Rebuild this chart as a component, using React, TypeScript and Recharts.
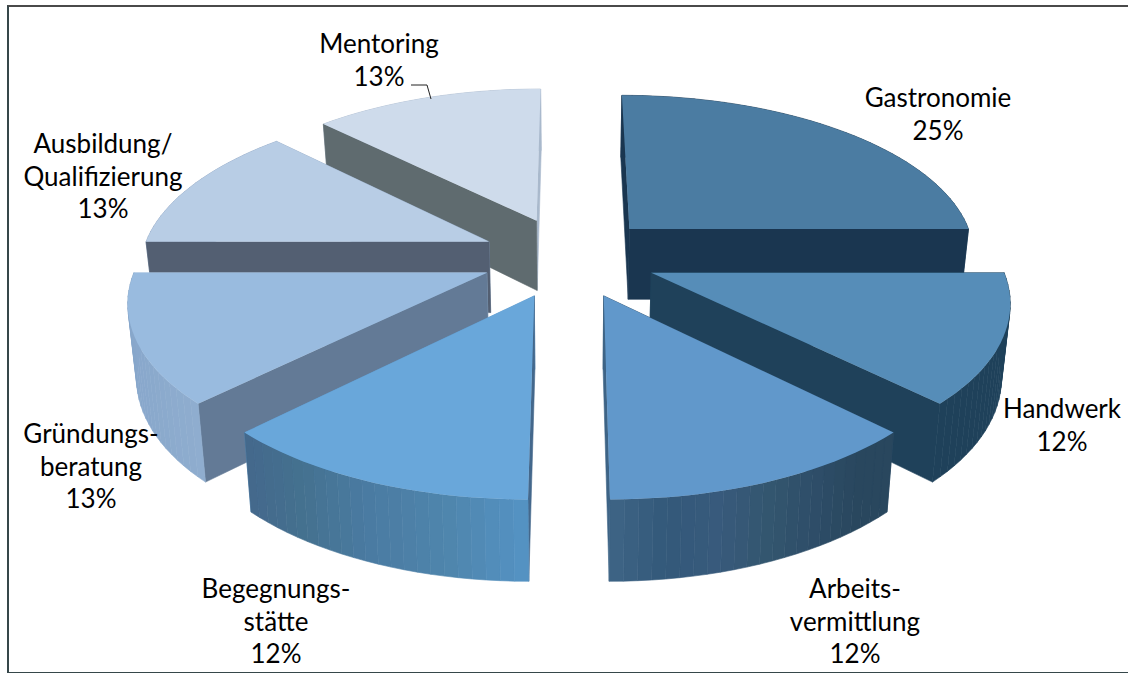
import { PieChart, Pie } from "recharts";

const categories = [
  "Gastronomie",
  "Handwerk",
  "Arbeitsvermittlung",
  "Begegnungsstätte",
  "Gründungsberatung",
  "Ausbildung",
  "Mentoring",
];
const values = [25, 12.5, 12.5, 12.5, 12.5, 12.5, 12.5];
const shownPercent = ["25%", "12%", "12%", "12%", "13%", "13%", "13%"];
const labelLines = [
  ["Gastronomie"],
  ["Handwerk"],
  ["Arbeits-", "vermittlung"],
  ["Begegnungs-", "stätte"],
  ["Gründungs-", "beratung"],
  ["Ausbildung/", "Qualifizierung"],
  ["Mentoring"],
];

const rows = categories.map((name, i) => ({ name, value: values[i], idx: i }));
// painted in this order so the nearer slices cover the farther ones
const rightRows = rows.slice(0, 3);
const leftRows = rows.slice(3).reverse();

// colours: top face, wall on the start-angle side, wall on the end-angle side, curved wall stops
const sliceStyles = [
  { top: "#4b7ca2", a: "#1a3650", b: "#1a3650", arc: ["#1a3650", "#1f415a"] },
  { top: "#568db8", a: "#1f415a", b: "#1f415a", arc: ["#1f415a", "#1f415a"] },
  { top: "#6198cb", a: "#2d4f6b", b: "#3e6486", arc: ["#29475e", "#29475e", "#2e4d68", "#33566f", "#385a7c", "#33597a", "#3e6486"] },
  { top: "#69a7da", a: "#5f9bcd", b: "#44688c", arc: ["#44688c", "#44718f", "#4a7ba2", "#4f85ac", "#5593c4"] },
  { top: "#99bbdf", a: "#aac4e0", b: "#637a96", arc: ["#82a2c2", "#87a6cb", "#8aa9cc", "#8fadcf"] },
  { top: "#b8cde5", a: "#94a9c4", b: "#535f72", arc: ["#8fa5c2", "#8fa5c2"] },
  { top: "#cedbeb", a: "#a9b9cc", b: "#5f6b6f", arc: ["#a9b9cc", "#a9b9cc"] },
];

// centre of each label line block and first baseline
const labelSpots = [
  { x: 938, y: 107 },
  { x: 1062, y: 418 },
  { x: 855, y: 598 },
  { x: 276, y: 598 },
  { x: 91, y: 443 },
  { x: 103, y: 153 },
  { x: 379, y: 53 },
];

const EXPLODE = 0.252;
const PERSPECTIVE = 0.147;
const FLATTEN = 0.4626;

const mix = (c1: string, c2: string, t: number) => {
  const n1 = parseInt(c1.slice(1), 16);
  const n2 = parseInt(c2.slice(1), 16);
  const ch = (s: number) => {
    const p = (n1 >> s) & 255;
    const q = (n2 >> s) & 255;
    return Math.round(p + (q - p) * t);
  };
  return `rgb(${ch(16)},${ch(8)},${ch(0)})`;
};

const stopColor = (stops: string[], t: number) => {
  const pos = t * (stops.length - 1);
  const i = Math.min(Math.floor(pos), stops.length - 2);
  return mix(stops[i], stops[i + 1], pos - i);
};

function Slice3D(props: any) {
  const { cx, cy, outerRadius, startAngle, endAngle, payload } = props;
  const style = sliceStyles[payload.idx ?? props.idx];
  const rad = (d: number) => (d * Math.PI) / 180;
  const mid = rad((startAngle + endAngle) / 2);
  const ou = EXPLODE * Math.cos(mid);
  const ov = -EXPLODE * Math.sin(mid);

  const topPt = (u: number, v: number) => {
    const w = 1 - PERSPECTIVE * v;
    return [cx + (outerRadius * u) / w, cy + (outerRadius * FLATTEN * v) / w];
  };
  const botPt = (u: number, v: number) => {
    const [x, y] = topPt(u, v);
    return [cx + (x - cx) * 0.98, y + 71.7 + 8.3 * v];
  };
  const str = (pts: number[][]) => pts.map((p) => `${p[0].toFixed(1)},${p[1].toFixed(1)}`).join(" ");

  const steps = Math.max(12, Math.round(Math.abs(endAngle - startAngle) / 2));
  const rim: number[][] = [];
  for (let i = 0; i <= steps; i++) {
    const t = rad(startAngle + ((endAngle - startAngle) * i) / steps);
    rim.push([ou + Math.cos(t), ov - Math.sin(t)]);
  }
  const apex = [ou, ov];

  const faces: { pts: number[][]; fill: string; key: number }[] = [];
  const radial = (p: number[], fill: string) =>
    faces.push({
      pts: [topPt(apex[0], apex[1]), topPt(p[0], p[1]), botPt(p[0], p[1]), botPt(apex[0], apex[1])],
      fill,
      key: (apex[1] + p[1]) / 2,
    });
  radial(rim[0], style.a);
  radial(rim[steps], style.b);
  for (let i = 0; i < steps; i++) {
    const p = rim[i];
    const q = rim[i + 1];
    faces.push({
      pts: [topPt(p[0], p[1]), topPt(q[0], q[1]), botPt(q[0], q[1]), botPt(p[0], p[1])],
      fill: stopColor(style.arc, (i + 0.5) / steps),
      key: (p[1] + q[1]) / 2,
    });
  }
  faces.sort((f, g) => f.key - g.key);

  const topFace = [apex, ...rim].map((p) => topPt(p[0], p[1]));
  return (
    <g>
      {faces.map((f, i) => (
        <polygon key={i} points={str(f.pts)} fill={f.fill} stroke={f.fill} strokeWidth={0.6} />
      ))}
      <polygon points={str(topFace)} fill={style.top} />
    </g>
  );
}

function SliceLabel(props: any) {
  const idx = props.payload?.idx ?? props.idx;
  const spot = labelSpots[idx];
  const lines = [...labelLines[idx], shownPercent[idx]];
  return (
    <g>
      <text
        x={spot.x}
        y={spot.y}
        textAnchor="middle"
        fontFamily="Lato, sans-serif"
        fontSize={26}
        fill="#000"
      >
        {lines.map((line, i) => (
          <tspan key={i} x={spot.x} y={spot.y + i * 32.6}>
            {line}
          </tspan>
        ))}
      </text>
      {categories[idx] === "Mentoring" && (
        <polyline points="411,85 427,85 431,99" fill="none" stroke="#222" strokeWidth={1} />
      )}
    </g>
  );
}

export default function App() {
  const common = {
    dataKey: "value",
    nameKey: "name",
    cx: 569,
    cy: 257,
    outerRadius: 348,
    stroke: "none",
    isAnimationActive: false,
    shape: Slice3D,
    label: SliceLabel,
    labelLine: false,
  };
  return (
    <div style={{ position: "absolute", left: 0, top: 0, width: 1128, height: 673, overflow: "hidden", background: "#fff" }}>
      <div
        style={{
          position: "absolute",
          left: 7,
          top: 5,
          width: 1121,
          height: 665,
          borderLeft: "2px solid #36474a",
          borderTop: "2px solid #4a4a4a",
          borderBottom: "2px solid #36474a",
        }}
      />
      <div style={{ position: "absolute", left: 0, top: 0 }}>
        <PieChart width={1128} height={673} margin={{ top: 0, right: 0, bottom: 0, left: 0 }}>
          <Pie {...common} data={rightRows} startAngle={90} endAngle={-90} />
          <Pie {...common} data={leftRows} startAngle={90} endAngle={270} />
        </PieChart>
      </div>
    </div>
  );
}
